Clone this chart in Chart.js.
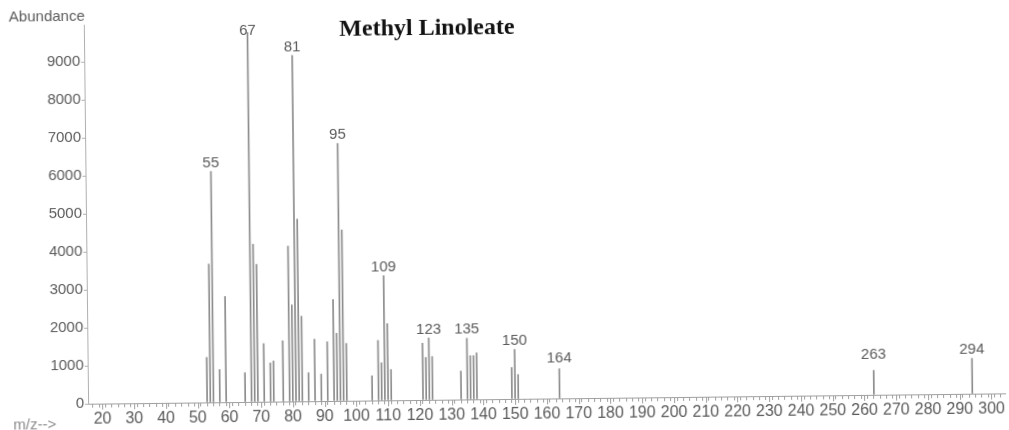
<!DOCTYPE html>
<html>
<head>
<meta charset="utf-8">
<title>Methyl Linoleate</title>
<script src="https://cdn.jsdelivr.net/npm/chart.js@4.4.0/dist/chart.umd.min.js"></script>
<style>
  html, body { margin: 0; padding: 0; background: #fff; overflow: hidden; }
  /* the printed trace sits slightly askew on the page */
  #wrap { width: 1009px; height: 430px; transform: rotate(-0.65deg); transform-origin: 50% 50%; }
  canvas { display: block; }
</style>
</head>
<body>
<div id="wrap"><canvas id="spectrum" width="1009" height="430"></canvas></div>
<script>
// m/z of each fragment and its abundance
const mzValues = [53, 54, 55, 57, 59, 65, 67, 68, 69, 71, 73, 74, 77, 79, 80, 81, 82, 83, 85, 87, 89,
                  91, 93, 94, 95, 96, 97, 105, 107, 108, 109, 110, 111, 121, 122, 123, 124,
                  133, 135, 136, 137, 138, 149, 150, 151, 164, 263, 294];
const abundances = [1180, 3640, 6080, 860, 2780, 770, 9730, 4150, 3620, 1530, 1020, 1070, 1600, 4090, 2540, 9110, 4800, 2240, 750, 1630, 710,
                    1560, 2670, 1780, 6780, 4500, 1510, 650, 1580, 990, 3280, 2020, 810, 1490, 1120, 1630, 1140,
                    750, 1610, 1150, 1150, 1220, 830, 1300, 640, 780, 640, 930];
// peaks annotated with their m/z
const labeledPeaks = [55, 67, 81, 95, 109, 123, 135, 150, 164, 263, 294];
// axis tick labels
const yTickValues = [0, 1000, 2000, 3000, 4000, 5000, 6000, 7000, 8000, 9000];
const xLabelValues = [20, 30, 40, 50, 60, 70, 80, 90, 100, 110, 120, 130, 140, 150, 160, 170, 180, 190,
                      200, 210, 220, 230, 240, 250, 260, 270, 280, 290, 300];
const chartTitle = 'Methyl Linoleate';
const yAxisTitle = 'Abundance';
const xAxisTitle = 'm/z-->';

const SANS = '"Liberation Sans", Arial, Helvetica, sans-serif';
const TEXT_GREY = '#5a5a5a';
Chart.defaults.font.family = SANS;

// minor ticks every 2 m/z units along the bottom axis
const xMinorTicks = [];
for (let v = 16; v <= 304; v += 2) xMinorTicks.push(v);

const annotations = {
  id: 'annotations',
  afterDatasetsDraw(chart) {
    const { ctx, chartArea, scales: { x, y } } = chart;
    ctx.save();

    // longer marks at the labelled m/z ticks
    ctx.strokeStyle = '#a0a0a0';
    ctx.lineWidth = 1;
    xLabelValues.forEach(v => {
      const px = Math.round(x.getPixelForValue(v)) + 0.5;
      ctx.beginPath();
      ctx.moveTo(px, chartArea.bottom);
      ctx.lineTo(px, chartArea.bottom + 6);
      ctx.stroke();
    });

    // peak labels
    ctx.font = '15px ' + SANS;
    ctx.fillStyle = TEXT_GREY;
    ctx.textAlign = 'center';
    ctx.textBaseline = 'middle';
    labeledPeaks.forEach(mz => {
      const v = abundances[mzValues.indexOf(mz)];
      const px = x.getPixelForValue(mz);
      let py = y.getPixelForValue(Math.max(v, 830)) - 8.5;
      py = Math.max(py, chartArea.top + 8);
      ctx.fillText(String(mz), px, py);
    });

    // axis captions
    ctx.textAlign = 'right';
    ctx.textBaseline = 'alphabetic';
    ctx.fillText(yAxisTitle, chartArea.left + 1, chartArea.top - 4);

    ctx.font = '15px ' + SANS;
    ctx.fillStyle = '#8a8a8a';
    ctx.textAlign = 'left';
    ctx.textBaseline = 'top';
    ctx.fillText(xAxisTitle, 11, chartArea.bottom + 13);

    // title
    ctx.font = 'bold 24px "Liberation Serif", "Times New Roman", serif';
    ctx.fillStyle = '#111';
    ctx.textAlign = 'center';
    ctx.textBaseline = 'alphabetic';
    ctx.fillText(chartTitle, 429, 34);

    ctx.restore();
  }
};

new Chart(document.getElementById('spectrum'), {
  type: 'bar',
  data: {
    datasets: [{
      data: mzValues.map((m, i) => ({ x: m, y: abundances[i] })),
      backgroundColor: '#8c8c8c',
      borderWidth: 0,
      barThickness: 1
    }]
  },
  options: {
    responsive: false,
    animation: false,
    devicePixelRatio: 1,
    layout: { padding: { top: 20, right: 6, left: 0, bottom: 0 } },
    plugins: { legend: { display: false }, tooltip: { enabled: false } },
    scales: {
      x: {
        type: 'linear',
        offset: false,
        min: 15.5,
        max: 304.3,
        afterBuildTicks: scale => { scale.ticks = xMinorTicks.map(v => ({ value: v })); },
        afterFit: scale => { scale.height = 31; },
        ticks: {
          autoSkip: false,
          maxRotation: 0,
          padding: 2,
          color: TEXT_GREY,
          font: { size: 16 },
          callback: v => (v % 10 === 0 ? String(v) : '')
        },
        grid: { drawOnChartArea: false, drawTicks: true, tickLength: 4, color: '#a0a0a0' },
        border: { display: true, color: '#a0a0a0', width: 1 }
      },
      y: {
        min: 0,
        max: 9980,
        afterBuildTicks: scale => { scale.ticks = yTickValues.map(v => ({ value: v })); },
        afterFit: scale => { scale.width = 86; },
        ticks: {
          padding: 1,
          color: TEXT_GREY,
          font: { size: 15 },
          callback: v => String(v)
        },
        grid: { drawOnChartArea: false, drawTicks: true, tickLength: 3, color: '#b0b0b0' },
        border: { display: true, color: '#b0b0b0', width: 1 }
      }
    }
  },
  plugins: [annotations]
});
</script>
</body>
</html>
